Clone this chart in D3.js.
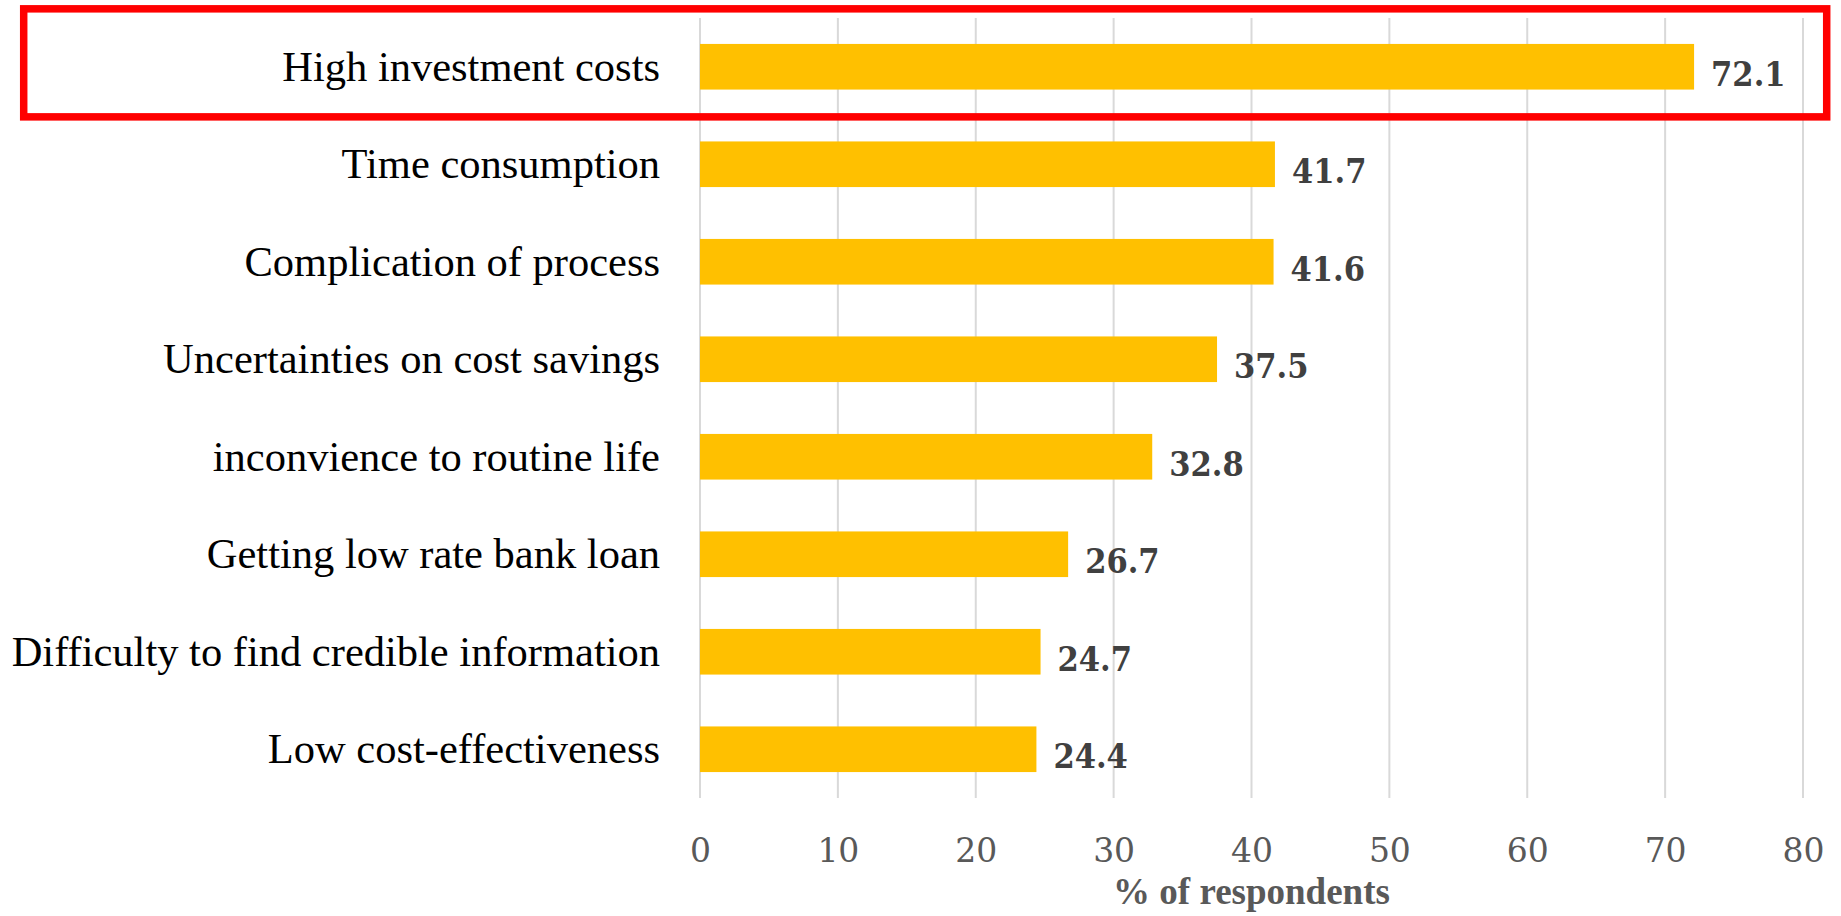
<!DOCTYPE html>
<html>
<head>
<meta charset="utf-8">
<script src="https://cdn.jsdelivr.net/npm/d3@7"></script>
<style>
  html, body { margin: 0; padding: 0; background: #ffffff; }
  svg { display: block; }
</style>
</head>
<body>
<svg id="chart" width="1841" height="916"></svg>
<script>
// Barriers to adoption, share of respondents (%)
const categories = [
  "High investment costs",
  "Time consumption",
  "Complication of process",
  "Uncertainties on cost savings",
  "inconvience to routine life",
  "Getting low rate bank loan",
  "Difficulty to find credible information",
  "Low cost-effectiveness"
];
const values = [72.1, 41.7, 41.6, 37.5, 32.8, 26.7, 24.7, 24.4];
const tickValues = [0, 10, 20, 30, 40, 50, 60, 70, 80];
const axisTitle = "% of respondents";
const highlighted = ["High investment costs"];

const rows = categories.map((c, i) => ({ category: c, value: values[i] }));

const svg = d3.select("#chart");

const x = d3.scaleLinear().domain([0, 80]).range([700, 1803]);
const y = d3.scaleBand()
  .domain(categories)
  .range([18, 798])
  .paddingInner(0.532)
  .paddingOuter(0.266);

// vertical gridlines
svg.append("g")
  .selectAll("line")
  .data(tickValues)
  .join("line")
  .attr("x1", d => x(d)).attr("x2", d => x(d))
  .attr("y1", 18).attr("y2", 798)
  .attr("stroke", "#d9d9d9")
  .attr("stroke-width", 2);

// bars
svg.append("g")
  .selectAll("rect")
  .data(rows)
  .join("rect")
  .attr("x", x(0))
  .attr("y", d => y(d.category))
  .attr("width", d => x(d.value) - x(0))
  .attr("height", y.bandwidth())
  .attr("fill", "#ffc000");

// value labels
svg.append("g")
  .selectAll("text")
  .data(rows)
  .join("text")
  .attr("x", d => x(d.value) + 17)
  .attr("y", d => y(d.category) + y.bandwidth() / 2 + 19)
  .attr("font-family", "'DejaVu Serif Condensed', 'DejaVu Serif', serif")
  .attr("font-stretch", "condensed")
  .attr("font-weight", "bold")
  .attr("font-size", 34)
  .attr("fill", "#404040")
  .text(d => d.value.toFixed(1));

// category axis
const yAxis = svg.append("g")
  .attr("transform", `translate(${x(0)},0)`)
  .call(d3.axisLeft(y).tickSize(0).tickPadding(40));
yAxis.select(".domain").remove();
yAxis.selectAll("text")
  .attr("font-family", "'Liberation Serif', 'Times New Roman', serif")
  .attr("font-size", 42.5)
  .attr("fill", "#000000")
  .attr("dy", "0.33em");

// value axis
const xAxis = svg.append("g")
  .attr("transform", "translate(0,798)")
  .call(d3.axisBottom(x).tickValues(tickValues).tickSize(0).tickPadding(0));
xAxis.select(".domain").remove();
xAxis.selectAll("text")
  .attr("font-family", "'DejaVu Serif', serif")
  .attr("font-size", 33)
  .attr("fill", "#595959")
  .attr("dy", null)
  .attr("y", 64);

// axis title
svg.append("text")
  .attr("x", (x(0) + x(80)) / 2)
  .attr("y", 904)
  .attr("text-anchor", "middle")
  .attr("font-family", "'Liberation Serif', 'Times New Roman', serif")
  .attr("font-weight", "bold")
  .attr("font-size", 37)
  .attr("fill", "#595959")
  .text(axisTitle);

// highlight frame around the leading barrier
svg.append("g")
  .selectAll("rect")
  .data(highlighted)
  .join("rect")
  .attr("x", 23.7)
  .attr("y", d => y(d) - y.step() * 0.36)
  .attr("width", 1803)
  .attr("height", y.step() * 1.108)
  .attr("fill", "none")
  .attr("stroke", "#ff0000")
  .attr("stroke-width", 7.5);
</script>
</body>
</html>
